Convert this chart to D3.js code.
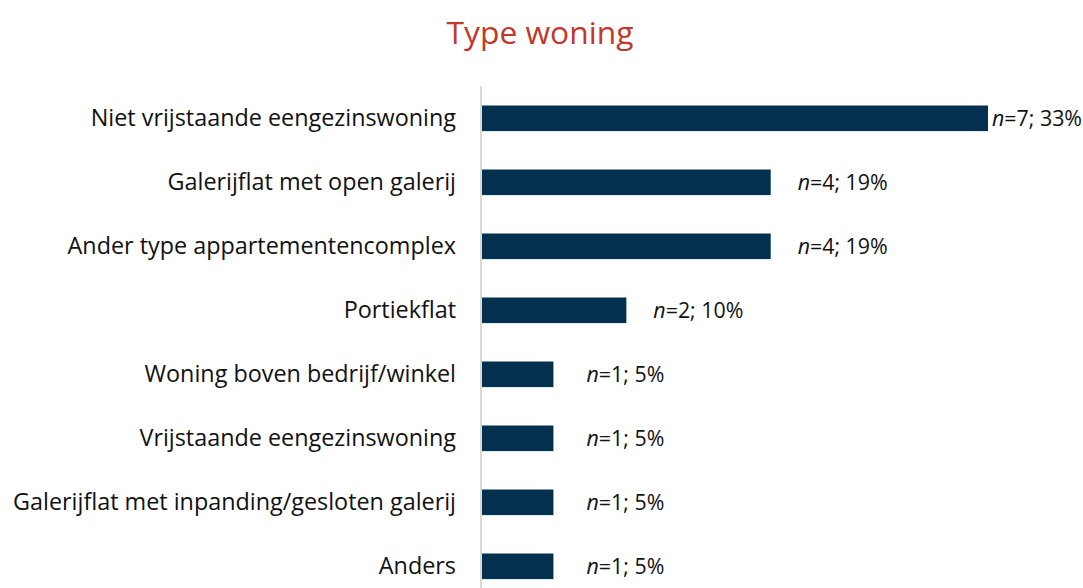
<!DOCTYPE html>
<html><head><meta charset="utf-8">
<script src="https://cdn.jsdelivr.net/npm/d3@7"></script>
<style>body{margin:0;background:#fff;} svg{display:block;}</style>
</head><body>
<svg id="chart" width="1083" height="588"></svg>
<script>
const categories = ["Niet vrijstaande eengezinswoning","Galerijflat met open galerij","Ander type appartementencomplex","Portiekflat","Woning boven bedrijf/winkel","Vrijstaande eengezinswoning","Galerijflat met inpanding/gesloten galerij","Anders"];
const counts = [7,4,4,2,1,1,1,1];
const percents = [33.3,19.0,19.0,9.5,4.7,4.7,4.7,4.7];
const percentLabels = ["33%","19%","19%","10%","5%","5%","5%","5%"];

const W = 1083, H = 588;
const svg = d3.select("#chart");
const font = "'Open Sans', sans-serif";

function fit(sel, target, base) {
  const w = sel.node().getComputedTextLength();
  sel.attr("font-size", base * target / w);
}

const title = svg.append("text").attr("x", 540).attr("y", 44).attr("text-anchor","middle")
  .attr("font-family", font).attr("font-size", 30).attr("fill","#C0392B").text("Type woning");
fit(title, 187, 30);

const x = d3.scaleLinear().domain([0, 33.3]).range([482, 988]);
const y = d3.scaleBand().domain(categories).range([86.3, 598.3]).paddingInner(0.6).paddingOuter(0.3);

svg.append("line").attr("x1",481).attr("x2",481).attr("y1",y.range()[0]).attr("y2",y.range()[1])
  .attr("stroke","#d9d9d9").attr("stroke-width",2);

const data = categories.map((c,i)=>({c, n:counts[i], v:percents[i], p:percentLabels[i]}));

svg.selectAll("rect.bar").data(data).join("rect").attr("class","bar")
  .attr("x", x(0)).attr("y", d=>y(d.c)).attr("width", d=>x(d.v)-x(0)).attr("height", y.bandwidth())
  .attr("fill","#02304E");

const cats = svg.selectAll("text.cat").data(data).join("text").attr("class","cat")
  .attr("x", 456).attr("y", d=>y(d.c)+y.bandwidth()/2).attr("dy","0.35em")
  .attr("text-anchor","end").attr("font-family", font).attr("font-size", 20).attr("fill","#111")
  .text(d=>d.c);
const longest = cats.filter(d=>d.c===categories[6]);
const catW = longest.node().getComputedTextLength();
cats.attr("font-size", 20 * 443 / catW);

const vl = svg.selectAll("text.val").data(data).join("text").attr("class","val")
  .attr("y", d=>y(d.c)+y.bandwidth()/2).attr("dy","0.35em")
  .attr("text-anchor","middle").attr("font-family", font).attr("font-size", 19).attr("fill","#111");
vl.append("tspan").attr("font-style","italic").text("n");
vl.append("tspan").text(d=>"=" + d.n + "; " + d.p);
const vW = vl.filter((d,i)=>i===0).node().getComputedTextLength();
vl.attr("font-size", 19 * 90 / vW);
vl.each(function(d){
  const w = this.getComputedTextLength();
  let cx = x(d.v) + 72;
  if (cx + w/2 > W - 1) cx = W - 1 - w/2;
  d3.select(this).attr("x", cx);
});
</script>
</body></html>
